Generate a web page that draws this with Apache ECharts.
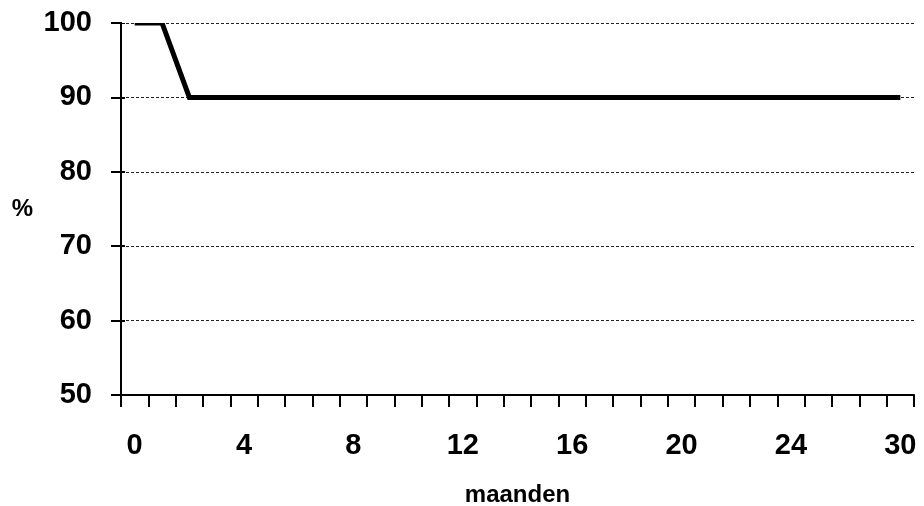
<!DOCTYPE html>
<html>
<head>
<meta charset="utf-8">
<script src="https://cdn.jsdelivr.net/npm/echarts@6/dist/echarts.min.js"></script>
<style>
  html, body { margin: 0; padding: 0; background: #fff; }
  #chart { width: 924px; height: 506px; }
</style>
</head>
<body>
<div id="chart"></div>
<script>
// Months on the horizontal axis (category positions)
const months = ['0', '1', '2', '3', '4', '5', '6', '7', '8', '9', '10', '11', '12', '13', '14',
                '15', '16', '17', '18', '19', '20', '21', '22', '23', '24', '25', '26', '27', '30'];
// Percentage per month
const percent = [100, 100, 90, 90, 90, 90, 90, 90, 90, 90, 90, 90, 90, 90, 90,
                 90, 90, 90, 90, 90, 90, 90, 90, 90, 90, 90, 90, 90, 90];
// Vertical axis range
const yMin = 50, yMax = 100, yStep = 10;

const FONT = '"Liberation Sans", Arial, sans-serif';
const chart = echarts.init(document.getElementById('chart'), null, { renderer: 'canvas' });

chart.setOption({
  animation: false,
  backgroundColor: '#ffffff',
  grid: { left: 121, right: 10, top: 23, bottom: 111, containLabel: false, outerBoundsMode: 'none' },
  xAxis: {
    type: 'category',
    data: months,
    boundaryGap: true,
    name: 'maanden',
    nameLocation: 'middle',
    nameGap: 88,
    nameTextStyle: { fontFamily: FONT, fontWeight: 'bold', fontSize: 24, color: '#000' },
    axisLine: { lineStyle: { color: '#000', width: 2 } },
    axisTick: { show: true, inside: false, length: 12, interval: 0, lineStyle: { color: '#000', width: 2 } },
    axisLabel: {
      interval: function (i) { return i % 4 === 0; },
      margin: 36,
      fontFamily: FONT, fontWeight: 'bold', fontSize: 29, color: '#000'
    },
    splitLine: { show: false }
  },
  yAxis: [{
    type: 'value',
    min: yMin, max: yMax, interval: yStep,
    name: '%',
    nameLocation: 'middle',
    nameRotate: 0,
    nameGap: 88,
    nameTextStyle: { fontFamily: FONT, fontWeight: 'bold', fontSize: 24, color: '#000' },
    axisLine: { show: true, lineStyle: { color: '#000', width: 2 } },
    axisTick: { show: true, inside: false, length: 10, lineStyle: { color: '#000', width: 2 } },
    axisLabel: { margin: 29, fontFamily: FONT, fontWeight: 'bold', fontSize: 29, color: '#000' },
    splitLine: { show: true, lineStyle: { color: '#222', width: 1, type: [3, 2] } }
  }, {
    // short inner half of the crossing tick marks
    type: 'value',
    position: 'left',
    min: yMin, max: yMax, interval: yStep,
    axisLine: { show: false },
    axisTick: { show: true, inside: true, length: 4, lineStyle: { color: '#000', width: 2 } },
    axisLabel: { show: false },
    splitLine: { show: false }
  }],
  series: [{
    type: 'line',
    data: percent,
    yAxisIndex: 0,
    clip: true,
    symbol: 'none',
    lineStyle: { color: '#000', width: 5, join: 'miter' },
    z: 3
  }]
});

// Clip the plot strictly at the top edge of the plotting area (the library
// pads its clip box by half the line width).
const rect = chart.getModel().getComponent('grid', 0).coordinateSystem.getRect();
chart.setOption({
  graphic: [{
    type: 'rect',
    z: 10,
    silent: true,
    shape: { x: rect.x + 1, y: 0, width: rect.width + 4, height: rect.y },
    style: { fill: '#ffffff' }
  }]
});
</script>
</body>
</html>
